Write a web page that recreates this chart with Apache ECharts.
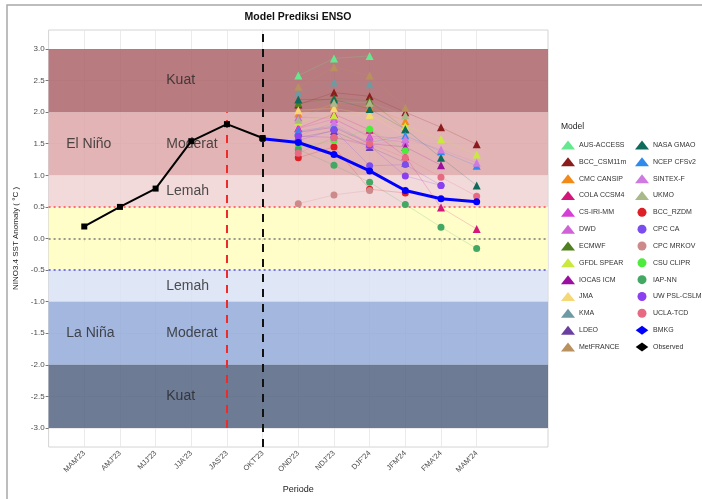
<!DOCTYPE html>
<html>
<head>
<meta charset="utf-8">
<script src="https://cdn.jsdelivr.net/npm/echarts@6/dist/echarts.min.js"></script>
<style>
  html, body { margin: 0; padding: 0; background: #ffffff; }
  #chart { width: 702px; height: 499px; }
</style>
</head>
<body>
<div id="chart"></div>
<script>
// ---- data -------------------------------------------------------------
const periods = ["MAM'23", "AMJ'23", "MJJ'23", "JJA'23", "JAS'23", "OKT'23",
                 "OND'23", "NDJ'23", "DJF'24", "JFM'24", "FMA'24", "MAM'24"];

// observed Niño3.4 anomaly (MAM'23 .. OKT'23)
const observedPeriods = periods.slice(0, 6);
const observed = [0.19, 0.50, 0.79, 1.54, 1.81, 1.59];

// BMKG forecast (OKT'23 .. MAM'24)
const bmkgPeriods = periods.slice(5);
const bmkg = [1.58, 1.52, 1.33, 1.07, 0.76, 0.63, 0.58];

// model forecasts for OND'23 .. MAM'24 (null = season not forecast)
const forecastPeriods = periods.slice(6);
const ausAccess = [2.58, 2.85, 2.89, null, null, null];
const bccCsm11m = [2.12, 2.31, 2.25, 2.00, 1.76, 1.49];
const cmcCansip = [1.98, 2.12, 2.08, 1.86, null, null];
const colaCcsm4 = [1.75, 1.97, 1.72, 1.30, 0.49, 0.15];
const csIriMm   = [1.74, 1.89, 1.62, 1.58, null, null];
const dwd       = [1.92, 1.90, 1.60, 1.52, null, null];
const ecmwf     = [2.14, 2.22, 2.18, 1.73, null, null];
const gfdlSpear = [1.85, 1.95, 1.95, 1.78, 1.57, 1.33];
const iocasIcm  = [1.68, 1.76, 1.50, 1.45, 1.16, null];
const jma       = [2.03, 2.06, 1.96, 1.62, null, null];
const kma       = [2.31, 2.47, 2.44, null, null, null];
const ldeo      = [1.60, 1.70, 1.45, 1.20, null, null];
const metFrance = [2.40, 2.71, 2.58, 2.07, null, null];
const nasaGmao  = [2.20, 2.20, 2.05, 1.73, 1.28, 0.84];
const ncepCfsv2 = [1.70, 1.78, 1.52, 1.63, 1.38, 1.15];
const sintexF   = [1.62, 1.84, 1.48, 1.58, 1.41, 1.20];
const ukmo      = [1.88, 2.15, 2.15, 1.95, null, null];
const bccRzdm   = [1.28, 1.45, 0.78, 0.72, null, null];
const cpcCa     = [1.55, 1.72, 1.15, 1.17, 0.84, null];
const cpcMrkov  = [0.55, 0.69, 0.76, null, null, null];
const csuClipr  = [1.45, 1.55, 1.73, 1.39, null, null];
const iapNn     = [1.41, 1.16, 0.89, 0.54, 0.18, -0.16];
const uwPslCslm = [1.62, 1.60, 1.47, 0.99, 0.84, null];
const uclaTcd   = [1.35, 1.60, 1.50, 1.28, 0.97, 0.67];

const modelNames = ['AUS-ACCESS', 'BCC_CSM11m', 'CMC CANSIP', 'COLA CCSM4', 'CS-IRI-MM', 'DWD',
  'ECMWF', 'GFDL SPEAR', 'IOCAS ICM', 'JMA', 'KMA', 'LDEO', 'MetFRANCE',
  'NASA GMAO', 'NCEP CFSv2', 'SINTEX-F', 'UKMO', 'BCC_RZDM', 'CPC CA', 'CPC MRKOV',
  'CSU CLIPR', 'IAP-NN', 'UW PSL-CSLM', 'UCLA-TCD'];
const modelValues = [ausAccess, bccCsm11m, cmcCansip, colaCcsm4, csIriMm, dwd,
  ecmwf, gfdlSpear, iocasIcm, jma, kma, ldeo, metFrance,
  nasaGmao, ncepCfsv2, sintexF, ukmo, bccRzdm, cpcCa, cpcMrkov,
  csuClipr, iapNn, uwPslCslm, uclaTcd];

// ENSO category bands: [lower, upper]
const bandRanges = [[2, 3], [1, 2], [0.5, 1], [-0.5, 0.5], [-1, -0.5], [-2, -1], [-3, -2]];
// band captions: [period anchor, value, text]
const bandCaptions = [
  ["JJA'23", 2.5, 'Kuat'], ["JJA'23", 1.5, 'Moderat'], ["JJA'23", 0.75, 'Lemah'],
  ["JJA'23", -0.75, 'Lemah'], ["JJA'23", -1.5, 'Moderat'], ["JJA'23", -2.5, 'Kuat']
];
const phaseCaptions = [["MAM'23", 1.5, 'El Niño'], ["MAM'23", -1.5, 'La Niña']];

const yTicks = [-3, -2.5, -2, -1.5, -1, -0.5, 0, 0.5, 1, 1.5, 2, 2.5, 3];

// ---- styling ----------------------------------------------------------
const FONT = '"Liberation Sans", Arial, Helvetica, sans-serif';
const modelColors = ['#66E88F', '#8B1C1C', '#F28A1A', '#D4157A', '#D63FD6', '#CF62D6',
  '#4F7F1F', '#C9EA3C', '#9A0FA0', '#F6D776', '#6E9AA3', '#6A3FA0', '#B9915E',
  '#0E6B5C', '#2E8BEB', '#CF7AE0', '#A9B98A', '#DD1F26', '#7B4DEE', '#CC8A8A',
  '#4CEB3C', '#44A865', '#8A3FF0', '#E86A82'];
const modelShapes = modelNames.map((n, i) => i < 17 ? 'triangle' : 'circle');
const bandColors = ['#ac656a', '#dea7a9', '#f0d2d4', '#fffebf', '#d9e2f4', '#94aad9', '#546482'];
const lozenge = 'path://M0,5 L7,0 L14,5 L7,10 Z';

// padded category axis so the panel extends one step left and two steps right
const xCats = [''].concat(periods, ['', '']);
const realCat = (i, v) => v !== '';

const modelSeries = modelNames.map((name, k) => ({
  type: 'line',
  name: name,
  data: forecastPeriods.map((p, i) => [p, modelValues[k][i]]).filter(d => d[1] !== null),
  symbol: modelShapes[k],
  symbolSize: modelShapes[k] === 'triangle' ? 8 : 7,
  itemStyle: { color: modelColors[k] },
  lineStyle: { color: modelColors[k], width: 0.6, opacity: 0.35 },
  z: 5,
  silent: true
}));

const legendLeft = modelNames.slice(0, 13).map(n => ({ name: n, icon: 'triangle' }));
const legendRight = modelNames.slice(13).map((n, i) => ({ name: n, icon: modelShapes[13 + i] }))
  .concat([{ name: 'BMKG', icon: lozenge }, { name: 'Observed', icon: lozenge }]);

const legendCommon = {
  orient: 'vertical',
  top: 140.5,
  padding: 0,
  itemWidth: 14,
  itemHeight: 9,
  itemGap: 7.83,
  selectedMode: false,
  textStyle: { fontFamily: FONT, fontSize: 7, color: '#333333', lineHeight: 9, padding: [0, 0, 0, -1] }
};

const option = {
  animation: false,
  backgroundColor: '#ffffff',
  graphic: [
    { type: 'rect', shape: { x: 7, y: 5, width: 700, height: 500 },
      style: { fill: null, stroke: '#a8a8a8', lineWidth: 1.5 }, silent: true },
    { type: 'text', x: 298, y: 17,
      style: { text: 'Model Prediksi ENSO', font: 'bold 10.5px ' + FONT, fill: '#111111',
               textAlign: 'center', textVerticalAlign: 'middle' } },
    { type: 'text', x: 561, y: 127,
      style: { text: 'Model', font: '8.5px ' + FONT, fill: '#222222',
               textAlign: 'left', textVerticalAlign: 'middle' } }
  ],
  legend: [
    Object.assign({ left: 561, data: legendLeft }, legendCommon),
    Object.assign({ left: 635, data: legendRight }, legendCommon)
  ],
  grid: {
    left: 48.6, top: 30, width: 499.4, height: 418,
    show: true, backgroundColor: '#ffffff', borderColor: '#d4d4d4', borderWidth: 1
  },
  xAxis: {
    type: 'category',
    data: xCats,
    boundaryGap: false,
    name: 'Periode',
    nameLocation: 'middle',
    nameGap: 38,
    nameTextStyle: { fontFamily: FONT, fontSize: 9, color: '#222222' },
    axisLine: { show: false },
    axisTick: { show: true, interval: realCat, length: 3, lineStyle: { color: '#555555', width: 0.8 } },
    axisLabel: { interval: 0, rotate: 45, margin: 5, fontFamily: FONT, fontSize: 7.5, color: '#4d4d4d' },
    splitLine: { show: true, interval: realCat, lineStyle: { color: '#e6e6e6', width: 0.8 } }
  },
  yAxis: {
    type: 'value',
    min: -3.3,
    max: 3.3,
    name: 'NINO3.4 SST Anomaly ( °C )',
    nameLocation: 'middle',
    nameGap: 27,
    nameTextStyle: { fontFamily: FONT, fontSize: 8, color: '#222222' },
    axisLine: { show: false },
    axisTick: { show: true, customValues: yTicks, length: 3, lineStyle: { color: '#555555', width: 0.8 } },
    axisLabel: { customValues: yTicks, margin: 4, fontFamily: FONT, fontSize: 8, color: '#4d4d4d',
                 formatter: v => v.toFixed(1) },
    splitLine: { show: true, lineStyle: { color: '#e6e6e6', width: 0.8 } }
  },
  series: [
    // category bands
    {
      type: 'line', name: 'bands', data: [], z: 1, silent: true,
      markArea: {
        silent: true,
        data: bandRanges.map((r, i) => [
          { yAxis: r[0], itemStyle: { color: bandColors[i], opacity: 0.85 } },
          { yAxis: r[1] }
        ])
      }
    },
    // threshold and reference lines
    {
      type: 'line', name: 'refs', data: [], z: 3, silent: true,
      markLine: {
        silent: true, symbol: 'none', label: { show: false },
        data: [
          { yAxis: 0.5, lineStyle: { color: '#ff6f6f', width: 2, type: [2, 3] } },
          { yAxis: 0, lineStyle: { color: '#9a9a8a', width: 2, type: [2, 3] } },
          { yAxis: -0.5, lineStyle: { color: '#7474ee', width: 2, type: [2, 3] } },
          [ { coord: ["JAS'23", -3], lineStyle: { color: '#ee2b2b', width: 2, type: [8, 7] } },
            { coord: ["JAS'23", 2] } ],
          { xAxis: "OKT'23", lineStyle: { color: '#111111', width: 2, type: [8, 7] } }
        ]
      }
    },
    // band captions
    {
      type: 'scatter', name: 'captions', z: 4, silent: true, symbolSize: 0,
      data: bandCaptions,
      label: { show: true, position: 'right', distance: 0, offset: [-25, 0],
               formatter: p => p.data[2], fontFamily: FONT, fontSize: 14, color: '#262626' }
    },
    {
      type: 'scatter', name: 'phases', z: 4, silent: true, symbolSize: 0,
      data: phaseCaptions,
      label: { show: true, position: 'right', distance: 0, offset: [-18, 0],
               formatter: p => p.data[2], fontFamily: FONT, fontSize: 14, color: '#262626' }
    }
  ].concat(modelSeries).concat([
    {
      type: 'line', name: 'BMKG', z: 8, silent: true,
      data: bmkgPeriods.map((p, i) => [p, bmkg[i]]),
      symbol: 'circle', symbolSize: 7,
      itemStyle: { color: '#0000ff' },
      lineStyle: { color: '#0000ff', width: 3 }
    },
    {
      type: 'line', name: 'Observed', z: 9, silent: true,
      data: observedPeriods.map((p, i) => [p, observed[i]]),
      symbol: 'rect', symbolSize: 6,
      itemStyle: { color: '#000000' },
      lineStyle: { color: '#000000', width: 2 }
    }
  ])
};

const chart = echarts.init(document.getElementById('chart'), null, { renderer: 'canvas' });
chart.setOption(option);
</script>
</body>
</html>
